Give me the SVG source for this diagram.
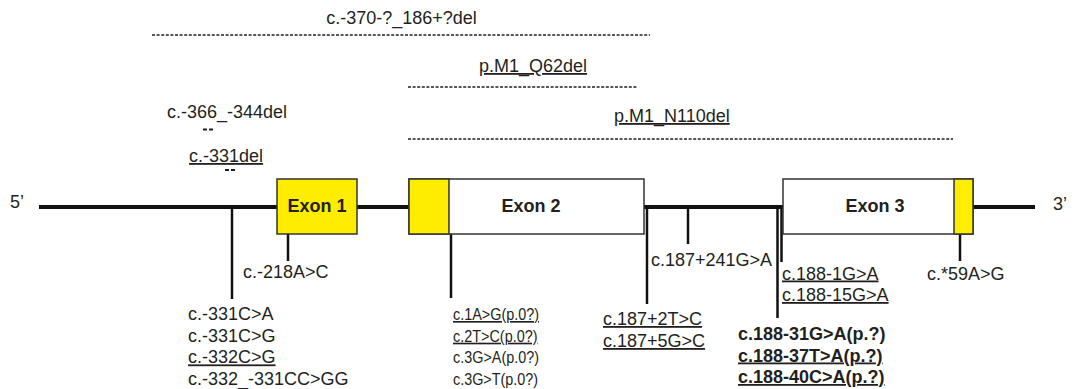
<svg xmlns="http://www.w3.org/2000/svg" width="1075" height="389" viewBox="0 0 1075 389">
<style>
text{font-family:"Liberation Sans",Arial,sans-serif;font-size:18px;fill:#231f20}
.b{font-weight:bold}
.u{text-decoration:underline}
.m{font-size:16.5px}
.ex{font-weight:bold;text-anchor:middle}
.dash{stroke:#231f20;stroke-width:1.4;stroke-dasharray:3 1.6;fill:none}
.sd{stroke:#231f20;stroke-width:2;stroke-dasharray:4 2;fill:none}
.vl{stroke:#111;stroke-width:2.5;fill:none}
.box{stroke:#333;stroke-width:1.5}
</style>
<rect width="1075" height="389" fill="#fff"/>
<g id="deletions">
<text x="401.5" y="24" text-anchor="middle">c.-370-?_186+?del</text>
<line class="dash" x1="152" y1="35" x2="650" y2="35"/>
<text class="u" x="479" y="72">p.M1_Q62del</text>
<line class="dash" x1="408" y1="87" x2="638" y2="87"/>
<text class="u" x="614" y="122">p.M1_N110del</text>
<line class="dash" x1="408" y1="139" x2="953" y2="139"/>
<text x="167" y="118">c.-366_-344del</text>
<line class="sd" x1="203" y1="129.5" x2="213" y2="129.5"/>
<text class="u" x="189" y="162">c.-331del</text>
<line class="sd" x1="225" y1="170" x2="235" y2="170"/>
</g>
<g id="connectors">
<line x1="39" y1="207" x2="1035" y2="207" stroke="#111" stroke-width="4"/>
<line class="vl" x1="232" y1="207" x2="232" y2="299"/>
<line class="vl" x1="288" y1="234" x2="288" y2="261"/>
<line class="vl" x1="451" y1="234" x2="451" y2="298"/>
<line class="vl" x1="647" y1="207" x2="647" y2="304"/>
<line class="vl" x1="688" y1="207" x2="688" y2="244"/>
<line class="vl" x1="777.5" y1="207" x2="777.5" y2="318"/>
<line class="vl" x1="781.5" y1="207" x2="781.5" y2="262"/>
<line class="vl" x1="960" y1="234" x2="960" y2="261"/>
</g>
<g id="ends">
<text x="10" y="208">5’</text>
<text x="1053" y="210">3’</text>
</g>
<g id="exon1">
<rect class="box" x="277" y="179" width="80" height="55" fill="#ffed00"/>
<text class="ex" x="317" y="212">Exon 1</text>
</g>
<g id="exon2">
<rect class="box" x="409" y="179" width="235" height="55" fill="#fff"/>
<rect class="box" x="409" y="179" width="40" height="55" fill="#ffed00"/>
<text class="ex" x="531" y="212">Exon 2</text>
</g>
<g id="exon3">
<rect class="box" x="783" y="179" width="190" height="55" fill="#fff"/>
<rect class="box" x="954" y="179" width="19" height="55" fill="#ffed00"/>
<text class="ex" x="875" y="212">Exon 3</text>
</g>
<g id="labels">
<text x="243" y="278">c.-218A&gt;C</text>
<text x="188" y="320">c.-331C&gt;A</text>
<text x="188" y="341.7">c.-331C&gt;G</text>
<text class="u" x="188" y="363.4">c.-332C&gt;G</text>
<text x="188" y="385">c.-332_-331CC&gt;GG</text>
<text class="u m" x="453" y="320" textLength="86" lengthAdjust="spacingAndGlyphs">c.1A&gt;G(p.0?)</text>
<text class="u m" x="453" y="341.7" textLength="84.5" lengthAdjust="spacingAndGlyphs">c.2T&gt;C(p.0?)</text>
<text class="m" x="453" y="363.4" textLength="86" lengthAdjust="spacingAndGlyphs">c.3G&gt;A(p.0?)</text>
<text class="m" x="453" y="385" textLength="85" lengthAdjust="spacingAndGlyphs">c.3G&gt;T(p.0?)</text>
<text class="u" x="603" y="325">c.187+2T&gt;C</text>
<text class="u" x="603" y="347">c.187+5G&gt;C</text>
<text x="651" y="266">c.187+241G&gt;A</text>
<text class="u" x="782" y="279.5">c.188-1G&gt;A</text>
<text class="u" x="782" y="301">c.188-15G&gt;A</text>
<text x="927" y="280">c.*59A&gt;G</text>
<text class="b" x="738" y="340">c.188-31G&gt;A(p.?)</text>
<text class="b u" x="738" y="361.5">c.188-37T&gt;A(p.?)</text>
<text class="b u" x="738" y="383">c.188-40C&gt;A(p.?)</text>
</g>
</svg>
